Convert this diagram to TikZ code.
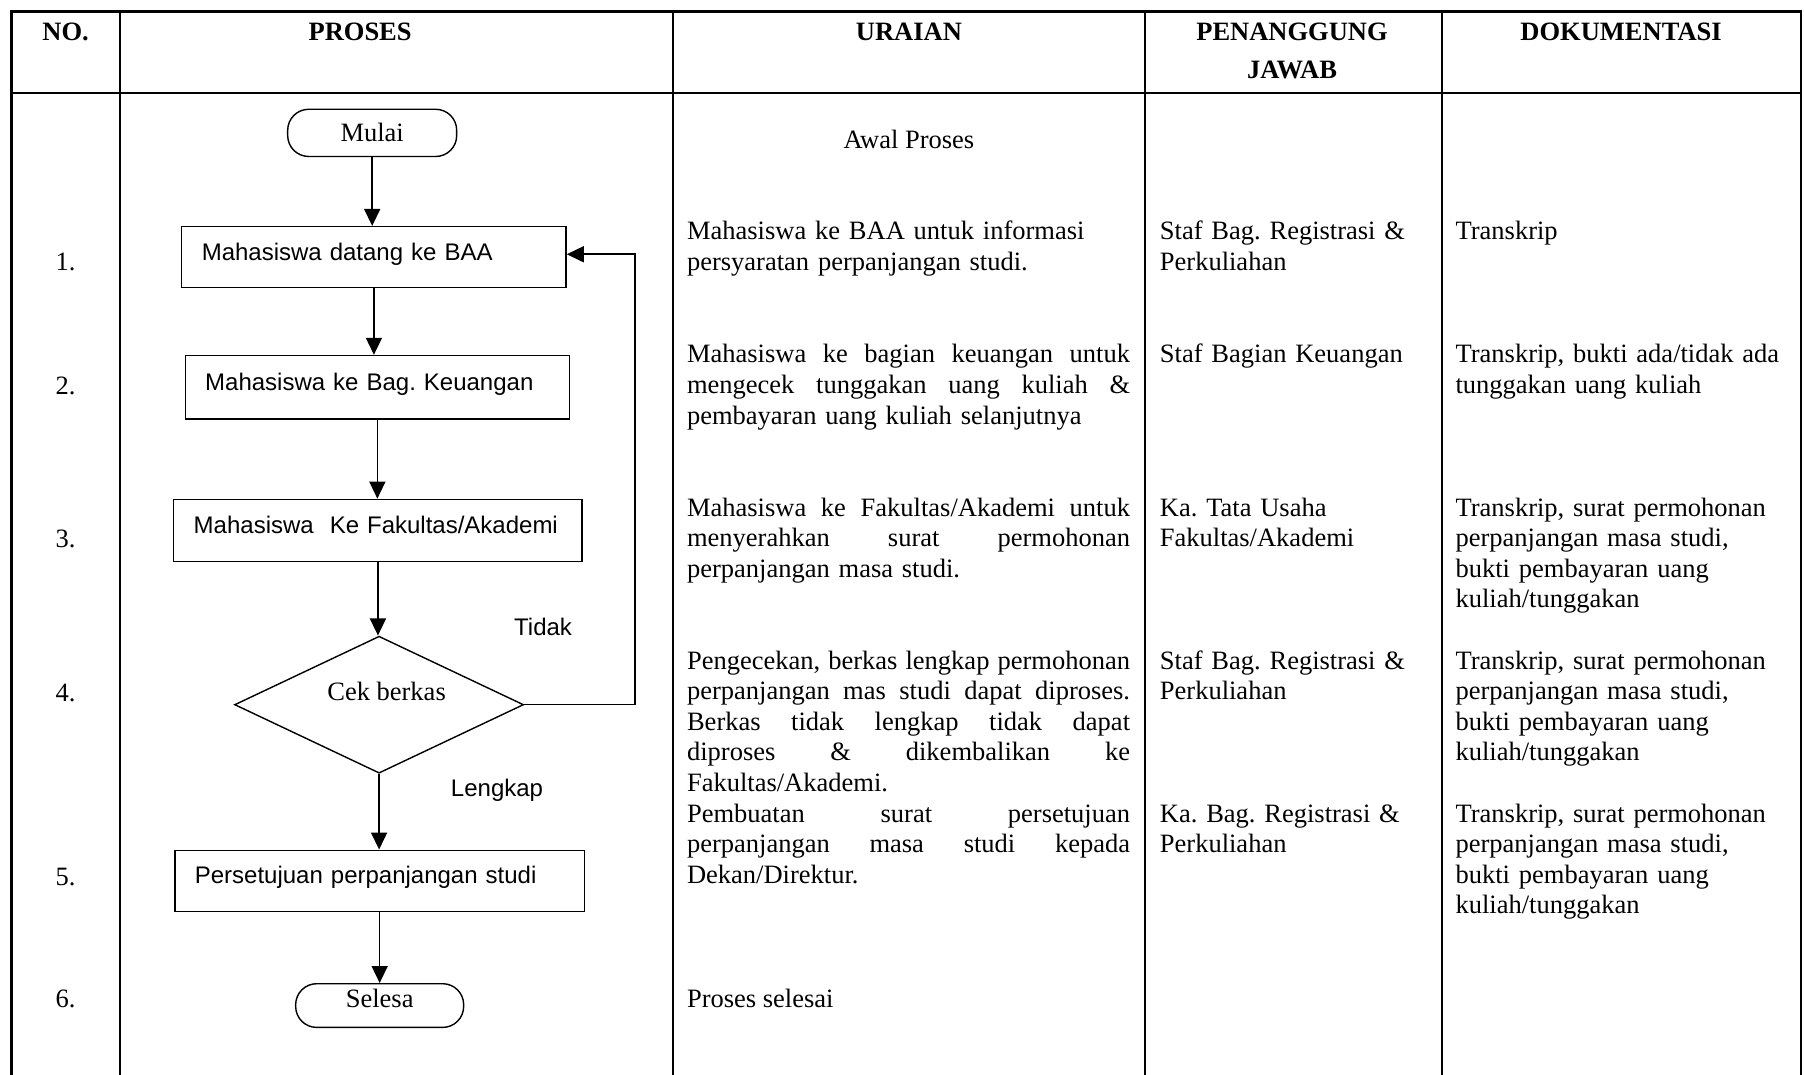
\documentclass[tikz,border=0pt]{standalone}
\usepackage{fontspec}
\setmainfont{Liberation Serif}
\newfontfamily\arialf{Liberation Sans}
\usetikzlibrary{arrows.meta,shapes.geometric,calc}
\newcommand{\jl}[1]{\leavevmode\hbox to 443pt{\spaceskip=0.25em plus 1fil\relax #1}}
\frenchspacing
\begin{document}
\frenchspacing
\begin{tikzpicture}[x=1.1505pt,y=-1.1505pt,
  tbl/.style={line width=2.1pt},
  txt/.style={font=\fontsize{26.5}{30.6}\selectfont\frenchspacing, inner sep=0pt, anchor=base west, align=left},
  hdr/.style={font=\fontsize{26.5}{30.6}\selectfont\bfseries, inner sep=0pt, anchor=base},
  num/.style={font=\fontsize{26.5}{30.6}\selectfont, inner sep=0pt, anchor=base},
  pbox/.style={draw, line width=1.4pt, font=\arialf\fontsize{24}{28}\selectfont\frenchspacing, align=left, inner xsep=20pt, inner ysep=0pt, text height=18pt, text depth=12pt},
  term/.style={draw, line width=1.4pt, rounded corners=21pt, font=\fontsize{26.5}{30.6}\selectfont, inner sep=0pt},
  flow/.style={line width=1.6pt, -{Triangle[length=17pt,width=16pt]}},
  lbl/.style={font=\arialf\fontsize{24}{28}\selectfont, inner sep=0pt, anchor=base}
]
\useasboundingbox (0,0) rectangle (1568,934);
% table
\draw[tbl] (10,934) -- (10,10) -- (1565.5,10) -- (1565.5,934);
\draw[tbl] (10,81) -- (1565.5,81);
\foreach \x in {104,585,995,1253} \draw[tbl] (\x,10) -- (\x,934);
% headers
\node[hdr] (h1) at (57,35.5) {NO.};
\node[hdr] (h2) at (313,35.5) {PROSES};
\node[hdr] (h3) at (790,35.5) {URAIAN};
\node[hdr] (h4) at (1123,35.5) {PENANGGUNG};
\node[hdr] (h4b) at (1123,68.5) {JAWAB};
\node[hdr] (h5) at (1409,35.5) {DOKUMENTASI};
% numbers
\node[num] (n1) at (57,235.5) {1.};
\node[num] (n2) at (57,342.5) {2.};
\node[num] (n3) at (57,475.5) {3.};
\node[num] (n4) at (57,609.5) {4.};
\node[num] (n5) at (57,769.5) {5.};
\node[num] (n6) at (57,875.5) {6.};
% flowchart
\node[term, minimum width=169pt, minimum height=47.2pt] (m) at (323.5,115.5) {Mulai};
\node[pbox, text width=344.3pt, minimum height=61pt] (b1) at (325,223.5) {Mahasiswa datang ke BAA};
\node[pbox, text width=344.3pt, minimum height=63.3pt] (b2) at (328,336.5) {Mahasiswa ke Bag. Keuangan};
\node[pbox, text width=368.4pt, minimum height=62.1pt] (b3) at (328.5,461) {Mahasiswa\ \ Ke Fakultas/Akademi};
\node[draw, diamond, line width=1.4pt, aspect=2.11, minimum width=289pt, minimum height=137pt, inner sep=0pt] (d) at (329.5,612.5) {};
\node[num] (dt) at (336,608.5) {Cek berkas};
\node[pbox, text width=369.6pt, minimum height=61pt] (b5) at (330,765.5) {Persetujuan perpanjangan studi};
\node[term, minimum width=168pt, minimum height=43.7pt, text height=18pt, text depth=14pt] (s) at (330,874) {Selesa};
\node[lbl] (tidak) at (472,552.5) {Tidak};
\node[lbl] (lengkap) at (432,692.5) {Lengkap};
\draw[flow] (m.south) -- (m.south |- b1.north);
\draw[flow] (b1.south) -- (b1.south |- b2.north);
\draw[flow] (b2.south) -- (b2.south |- b3.north);
\draw[flow] (b3.south) -- (b3.south |- d.north);
\draw[flow] (d.south) -- (d.south |- b5.north);
\draw[flow] (b5.south) -- (b5.south |- s.north);
\coordinate (r) at (552,221);
\draw[flow] (d.east) -| (r) -- (r -| b1.east);
% uraian
\node[txt, anchor=base] (u0) at (790,129.5) {Awal Proses};
\node[txt, text width=443pt] (u1) at (597,208.5) {Mahasiswa ke BAA untuk informasi\\persyaratan perpanjangan studi.};
\node[txt, text width=443pt] (u2) at (597,315.5) {\jl{Mahasiswa ke bagian keuangan untuk}\\\jl{mengecek tunggakan uang kuliah \&}\\pembayaran uang kuliah selanjutnya};
\node[txt, text width=443pt] (u3) at (597,448.5) {\jl{Mahasiswa ke Fakultas/Akademi untuk}\\\jl{menyerahkan surat permohonan}\\perpanjangan masa studi.};
\node[txt, text width=443pt] (u4) at (597,581.5) {\jl{Pengecekan, berkas lengkap permohonan}\\\jl{perpanjangan mas studi dapat diproses.}\\\jl{Berkas tidak lengkap tidak dapat}\\\jl{diproses \& dikembalikan ke}\\Fakultas/Akademi.};
\node[txt, text width=443pt] (u5) at (597,714.5) {\jl{Pembuatan surat persetujuan}\\\jl{perpanjangan masa studi kepada}\\Dekan/Direktur.};
\node[txt] (u6) at (597,875.5) {Proses selesai};
% penanggung jawab
\node[txt, text width=280pt] (p1) at (1008,208.5) {Staf Bag. Registrasi \&\\Perkuliahan};
\node[txt, text width=280pt] (p2) at (1008,315.5) {Staf Bagian Keuangan};
\node[txt, text width=280pt] (p3) at (1008,448.5) {Ka. Tata Usaha\\Fakultas/Akademi};
\node[txt, text width=280pt] (p4) at (1008,581.5) {Staf Bag. Registrasi \&\\Perkuliahan};
\node[txt, text width=280pt] (p5) at (1008,714.5) {Ka. Bag. Registrasi \&\\Perkuliahan};
% dokumentasi
\node[txt, text width=345pt] (doc1) at (1265,208.5) {Transkrip};
\node[txt, text width=345pt] (doc2) at (1265,315.5) {Transkrip, bukti ada/tidak ada\\tunggakan uang kuliah};
\node[txt, text width=345pt] (doc3) at (1265,448.5) {Transkrip, surat permohonan\\perpanjangan masa studi,\\bukti pembayaran uang\\kuliah/tunggakan};
\node[txt, text width=345pt] (doc4) at (1265,581.5) {Transkrip, surat permohonan\\perpanjangan masa studi,\\bukti pembayaran uang\\kuliah/tunggakan};
\node[txt, text width=345pt] (doc5) at (1265,714.5) {Transkrip, surat permohonan\\perpanjangan masa studi,\\bukti pembayaran uang\\kuliah/tunggakan};
\end{tikzpicture}
\end{document}
